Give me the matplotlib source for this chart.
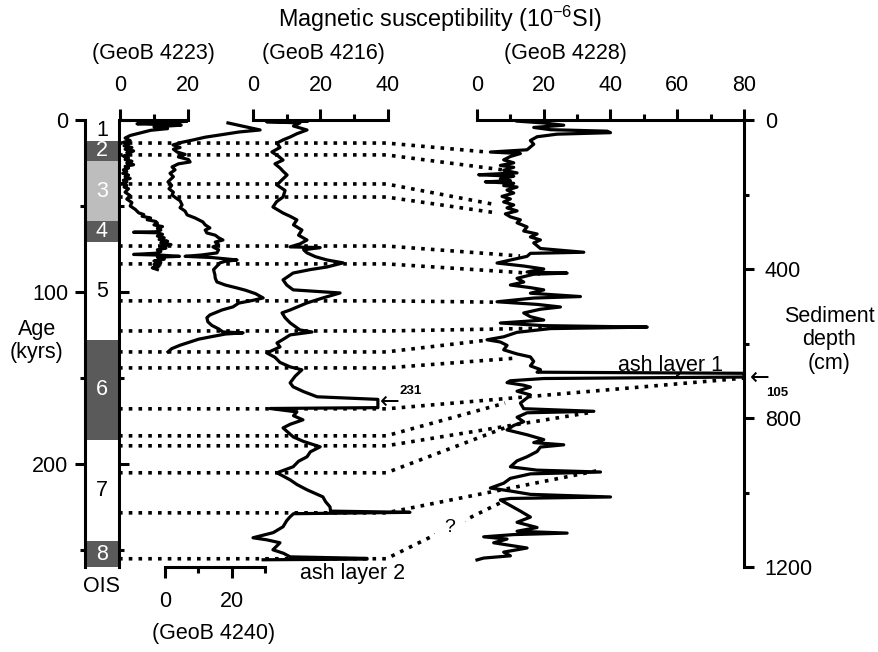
import matplotlib.pyplot as plt
from matplotlib.lines import Line2D

plt.rcParams['font.family'] = ['Liberation Sans', 'DejaVu Sans']
plt.rcParams['mathtext.fontset'] = 'custom'
plt.rcParams['mathtext.rm'] = 'Liberation Sans'
plt.rcParams['font.size'] = 15.5

# oxygen isotope stages (ages in kyr)
ois_bounds = [0, 12, 24, 59, 71, 128, 186, 245, 260]
ois_labels = ['1', '2', '3', '4', '5', '6', '7', '8']
ois_colors = ['white', '#5a5a5a', '#bdbdbd', '#5a5a5a', 'white', '#5a5a5a', 'white', '#5a5a5a']

# GeoB 4223 (age kyr / 10^-6 SI)
age_4223 = [0.8, 1.5, 2.2, 3.0, 4.0, 5.0, 6.0, 7.5, 9.0, 10.5,
            12, 13, 14, 15, 16, 17, 18, 19, 20, 21, 22, 23, 24, 25, 26, 27, 28, 29, 30, 31,
            32, 33, 34, 35, 36, 37, 38, 39, 40, 42, 44, 46, 48, 50, 52, 54,
            55, 56, 57, 58, 59, 60, 61, 62, 63, 64, 65, 65.3, 65.6,
            66.5, 67.5, 68.5, 69.5, 70.5, 71.5, 72.5, 73.5, 74.5, 75.5, 76.5, 77.5,
            78.2, 78.6, 79.3, 79.8, 81, 82, 83, 84, 85, 86, 87]
ms_4223 = [19.5, 12, 5, 18, 10, 14, 9, 6, 3, 1.5,
           3, 1, 2.5, 1.2, 3.5, 1.5, 4, 2, 3, 1, 2.5, 1.5, 3.5, 2, 4, 1.5, 2.5, 1, 2, 0.8,
           2.5, 1.5, 3, 1, 2, 0.5, 2, 1.2, 2.5, 1.5, 3, 2, 3.5, 3, 4.5, 5.5,
           7, 6.5, 9, 8, 10.5, 11, 10, 12.5, 11, 12, 10.5, 4, 11,
           12.5, 11, 13, 11.5, 14, 12, 15, 12, 13.5, 11, 12, 10.5,
           4, 12, 17.5, 11, 13, 10, 12, 10, 11.5, 9.5, 11]

# GeoB 4240
age_4240 = [1.7, 3.5, 5.8, 7, 8.7, 10, 11.6, 13, 14.5, 16,
            17, 18.6, 20, 21.5, 23, 24.4, 25.5, 27.3, 29, 31,
            33, 36, 38, 40, 42, 43.6, 45, 47, 49.4, 51,
            53, 55.2, 57, 59.3, 61, 62.8, 64, 65.7, 67, 68.5,
            69.8, 71, 72.5, 73.8, 75.5, 77.3, 78.5, 79.3, 80, 81.4,
            82.2, 83.1, 85, 87, 90.1, 92, 94.2, 96, 97.7, 99,
            101, 103.5, 105, 106.5, 108.7, 110.5, 113.4, 115, 117.4, 119.5,
            121.5, 123.3, 123.8, 124.5, 126.2, 127.5, 129.1, 131, 133, 134.9]
ms_4240 = [18.8, 23, 28.4, 22, 16.4, 12, 8.4, 5, 2.4, 4.5,
           2.5, 3.6, 6, 4, 7, 7.5, 4, 2.1, 3, 1.5,
           2.5, 0.9, 2, 1.2, 2.5, 2.1, 3, 4.5, 5.1, 4.5,
           6, 6.6, 9, 11.3, 12, 13.4, 12, 12.5, 15, 16,
           17.3, 15, 16, 14.3, 16, 15.5, 11, 6, 14, 21.5,
           18, 16.4, 15.5, 14.5, 14.9, 15, 15.5, 18, 21.5, 24,
           27, 29.3, 26, 22, 20.3, 17, 13.4, 12.5, 12.8, 14,
           16, 17.3, 23.3, 18, 13.4, 10, 7.5, 4.5, 2, 0.9]

# GeoB 4216
age_4216 = [0.8, 1.0, 1.7, 3.5, 5.8, 8, 9.9, 11.5, 13.4, 16,
            18.6, 21, 23.3, 25.5, 27.9, 30, 32, 35, 37.8, 41,
            44.8, 47.5, 50.6, 54.1, 56, 58.1, 61, 64, 67, 69.8,
            72, 73.8, 74.2, 75.5, 77.3, 79.5, 81.4, 83.1, 85.5, 87,
            89, 93, 96, 98.8, 100.6, 103.5, 106.4, 110.5, 112.2, 115,
            118, 122.1, 123.3, 125, 127.5, 129.7, 132, 135.5, 138, 141,
            143.6, 145.3, 149, 152.9, 155.2, 158, 161, 162.5, 167.3, 167.8,
            169.8, 172, 174.4, 177, 179.1, 184.3, 187, 190.1, 193, 195.9,
            198.5, 201.7, 205.2, 209.3, 212, 215.1, 219.2, 222, 225, 227.5,
            228.2, 229, 230.8, 233, 236.6, 240, 243, 244.2, 245.9, 250,
            252, 254.1, 255, 255.4, 255.8]
ms_4216 = [16, 4, 13.9, 12, 16, 13, 11, 9, 7.1, 8,
           5.6, 7.5, 8.9, 6.5, 8, 9, 10.1, 8.5, 7.1, 9.5,
           8.9, 7, 5.9, 8.9, 11, 13, 12, 14.5, 13.5, 16,
           14, 11, 19.9, 15, 16, 18.5, 21.9, 26.7, 21.9, 17,
           11.9, 8.9, 10, 11.9, 25.8, 20.7, 16, 11, 8.6, 9.5,
           11, 13.9, 17.5, 11, 9, 7.1, 8, 4.1, 6.5, 8,
           11, 14.5, 12.5, 11, 11.9, 15, 19, 37, 37, 5,
           13, 12, 14.8, 11, 8.9, 11.9, 15, 19.9, 17, 16,
           13.5, 11.9, 7.1, 11, 13, 16, 20.7, 21.5, 22.8, 23,
           46.5, 12, 11, 10, 8.9, 6, 0, 4.1, 8, 5.9,
           9, 11, 33.8, 33.8, 3]

# GeoB 4228 (sediment depth cm)
depth_4228 = [3, 8, 14, 20, 26, 30, 34, 38, 45, 55,
              65, 80, 86, 90, 98, 107, 115, 122, 127, 135,
              142, 147, 151, 158, 163, 166, 170, 176, 180, 188,
              196, 205, 212, 220, 228, 236, 244, 252, 260, 268,
              276, 287, 298, 306, 314, 322, 330, 345, 355, 358,
              366, 374, 384, 392, 400, 408, 411, 414, 425, 435,
              443, 450, 456, 465, 474, 478, 488, 495, 502, 508,
              518, 528, 537, 542, 545, 552, 556, 560, 570, 582,
              590, 596, 605, 617, 628, 636, 648, 660, 670, 677,
              680, 690, 694, 700, 705, 712, 717, 728, 738, 746,
              760, 775, 782, 786, 798, 810, 820, 832, 845, 858,
              866, 872, 878, 890, 904, 915, 931, 940, 945, 950,
              962, 975, 988, 996, 1005, 1012, 1016, 1020, 1035, 1050,
              1066, 1080, 1094, 1104, 1109, 1113, 1119, 1125, 1135, 1149,
              1160, 1170, 1176, 1181]
ms_4228 = [12, 20, 26, 17, 22, 39, 40, 24, 18, 16,
           17, 15, 4, 13, 10, 8, 11, 7, 11, 8,
           12, 0.5, 11, 7, 10, 2.5, 11, 8, 12, 9,
           11, 7.5, 10, 8, 11, 9, 12, 8.5, 10, 13,
           12, 15, 14, 18, 16, 19, 17, 19, 32, 16,
           15, 11, 6, 14, 20, 15, 27, 17, 12, 14,
           10, 16, 20, 16, 31, 17, 6, 18, 25, 19,
           14, 16, 20, 12, 7, 20, 51, 22, 12, 8,
           3, 7, 9, 8, 12, 16, 17, 16, 19, 18,
           80, 80, 20, 10, 9, 14, 16, 12, 16, 15,
           13, 14, 35, 15, 12, 14, 11, 9, 15, 20,
           17, 26, 19, 18, 15, 12, 10, 18, 37, 16,
           10, 8, 4, 10, 16, 40, 10, 7, 10, 13,
           16, 12, 18, 12, 27, 11, 2, 9, 5, 15,
           8, 10, 2, 0]

# correlation tie points: age (left records) -> depth / value on GeoB 4228
tie_age = [13.4, 20.3, 37.2, 44.8, 73.3, 83.7, 105.2, 122.7, 134.9, 144.2,
           168.0, 183.7, 189.5, 205.2, 228.5, 255.2]
tie_depth = [86, 134, 228, 250, 365, 413, 489, 558, 591, 639,
             693, 760, 784, 824, 940, 1028]
tie_ms = [3, 7.8, 6, 6.3, 12.9, 18.9, 4.8, 26.4, 3, 12,
          80, 8.4, 34.8, 9, 36.9, 6.9]

W, H = 879, 652
fig = plt.figure(figsize=(W / 100, H / 100), dpi=100)


def box(x0, x1, y0=120, y1=567):
    return [x0 / W, 1 - y1 / H, (x1 - x0) / W, (y1 - y0) / H]


LW = 2.2
AGE_MAX = 260

# OIS column with age axis
ax_ois = fig.add_axes(box(85, 119))
ax_ois.set_xlim(0, 1)
ax_ois.set_ylim(AGE_MAX, 0)
for i, lab in enumerate(ois_labels):
    a0, a1 = ois_bounds[i], ois_bounds[i + 1]
    ax_ois.axhspan(a0, a1, color=ois_colors[i], lw=0)
    yc = (a0 + a1) / 2
    tc = 'black' if ois_colors[i] == 'white' else 'white'
    ax_ois.text(0.5, yc, lab, ha='center', va='center', color=tc)
for s in ['top', 'bottom']:
    ax_ois.spines[s].set_visible(False)
for s in ['left', 'right']:
    ax_ois.spines[s].set_linewidth(LW)
ax_ois.set_xticks([])
ax_ois.set_yticks([0, 100, 200])
ax_ois.set_yticks([50, 150, 250], minor=True)
ax_ois.yaxis.set_ticks_position('both')
ax_ois.tick_params(axis='y', which='both', direction='out', width=LW, labelright=False, pad=5)
ax_ois.tick_params(axis='y', which='major', length=7)
ax_ois.tick_params(axis='y', which='minor', length=3.5)


def curve_axes(x0, x1, xmax, side):
    ax = fig.add_axes(box(x0, x1))
    ax.patch.set_visible(False)
    ax.set_xlim(0, xmax)
    for s in ax.spines:
        ax.spines[s].set_visible(False)
    ax.spines[side].set_visible(True)
    ax.spines[side].set_linewidth(LW)
    ax.set_yticks([])
    ax.xaxis.set_ticks_position(side)
    ax.xaxis.set_label_position(side)
    ax.tick_params(axis='x', which='both', direction='out', width=LW, pad=9)
    ax.tick_params(axis='x', which='major', length=8)
    ax.tick_params(axis='x', which='minor', length=4)
    return ax


ax4223 = curve_axes(120, 188, 20, 'top')
ax4223.set_ylim(AGE_MAX, 0)
ax4223.set_xticks([0, 20])
ax4223.set_xticks([10], minor=True)
ax4223.plot(ms_4223, age_4223, color='k', lw=2.3, clip_on=False)

ax4240 = curve_axes(165, 265.5, 30, 'bottom')
ax4240.set_ylim(AGE_MAX, 0)
ax4240.set_xticks([0, 20])
ax4240.set_xticks([10, 30], minor=True)
ax4240.plot(ms_4240, age_4240, color='k', lw=2.3, clip_on=False)

ax4216 = curve_axes(253, 388, 40, 'top')
ax4216.set_ylim(AGE_MAX, 0)
ax4216.set_xticks([0, 20, 40])
ax4216.set_xticks([10, 30], minor=True)
ax4216.plot(ms_4216, age_4216, color='k', lw=2.3, clip_on=False)

ax4228 = curve_axes(477, 744, 80, 'top')
ax4228.set_ylim(1200, 0)
ax4228.set_xticks([0, 20, 40, 60, 80])
ax4228.set_xticks([10, 30, 50, 70], minor=True)
ax4228.spines['right'].set_visible(True)
ax4228.spines['right'].set_linewidth(LW)
ax4228.set_yticks([0, 400, 800, 1200])
ax4228.set_yticks([200, 600, 1000], minor=True)
ax4228.yaxis.set_ticks_position('right')
ax4228.tick_params(axis='y', which='both', direction='out', width=LW, pad=8)
ax4228.tick_params(axis='y', which='major', length=7)
ax4228.tick_params(axis='y', which='minor', length=3.5)
ax4228.plot(ms_4228, depth_4228, color='k', lw=2.3, clip_on=False)

# dotted correlation lines
inv = fig.transFigure.inverted()
for a, d, v in zip(tie_age, tie_depth, tie_ms):
    p0 = ax_ois.transData.transform((1, a))
    p1 = ax4216.transData.transform((39.5, a))
    p2 = ax4228.transData.transform((v, d))
    pts = inv.transform([p0, p1, p2])
    fig.add_artist(Line2D(pts[:, 0], pts[:, 1], transform=fig.transFigure,
                          color='k', lw=2.6, ls=(0, (1, 1.7)), zorder=-1))


def ftext(x, y, s, **kw):
    fig.text(x / W, 1 - y / H, s, ha=kw.pop('ha', 'center'), va=kw.pop('va', 'center'), **kw)


ftext(440, 19, r'Magnetic susceptibility (10$^{-6}$SI)', fontsize=16.8)
ftext(153, 54, '(GeoB 4223)')
ftext(323, 54, '(GeoB 4216)')
ftext(565, 54, '(GeoB 4228)')
ftext(214, 633, '(GeoB 4240)')
ftext(102, 586, 'OIS')
ftext(37, 341, 'Age\n(kyrs)', linespacing=1.14)
ftext(829, 340, 'Sediment\ndepth\n(cm)', linespacing=1.14)
ftext(670, 365, 'ash layer 1')
ftext(353, 573, 'ash layer 2')
ftext(390, 402, '\u2190', fontsize=17, family='DejaVu Sans')
ftext(411, 391, '231', fontsize=9.5, fontweight='bold')
ftext(760, 378, '\u2190', fontsize=17, family='DejaVu Sans')
ftext(777, 393, '105', fontsize=9.5, fontweight='bold')
ftext(450, 528, '?', fontsize=14,
      bbox=dict(facecolor='white', edgecolor='none', boxstyle='square,pad=0.5'))

fig.savefig('out.png', dpi=100)
